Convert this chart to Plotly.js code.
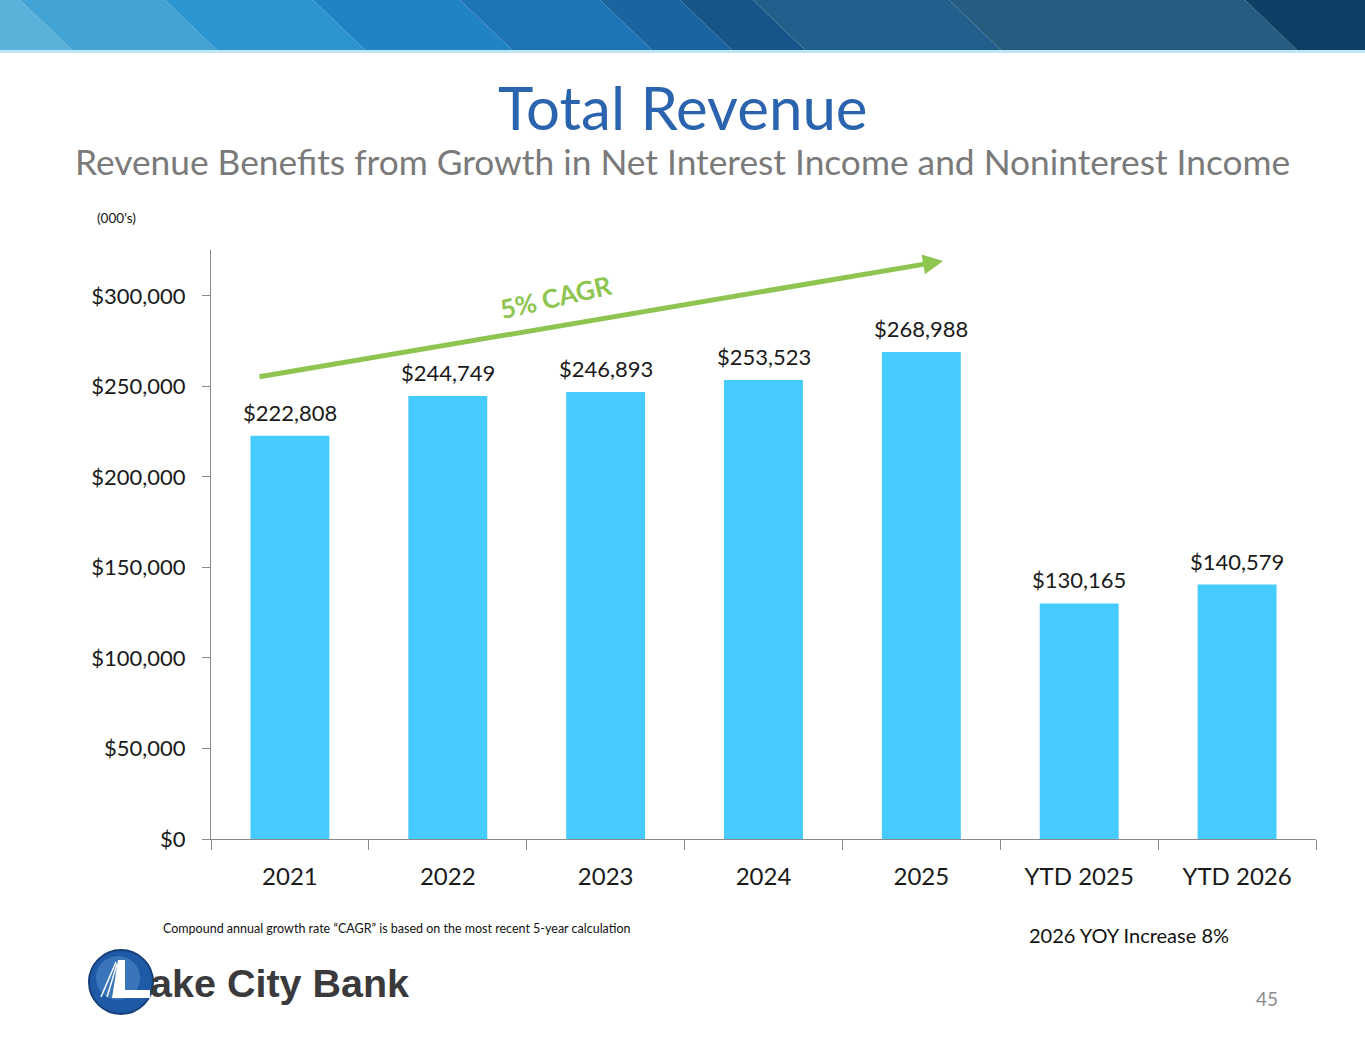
<!DOCTYPE html>
<html>
<head>
<meta charset="utf-8">
<script src="https://cdn.plot.ly/plotly-3.0.1.min.js"></script>
<style>
  html, body { margin: 0; padding: 0; background: #fff; }
  #chart { width: 1365px; height: 1047px; }
</style>
</head>
<body>
<div id="chart"></div>
<script>
"use strict"
// chart data (000's)
let years = ["2021", "2022", "2023", "2024", "2025", "YTD 2025", "YTD 2026"];
let revenue = [222808, 244749, 246893, 253523, 268988, 130165, 140579];
let bar_labels = ["$222,808", "$244,749", "$246,893", "$253,523", "$268,988", "$130,165", "$140,579"];
let cagr_text = "5% CAGR";

// plot box in pixels
const W = 1365, H = 1047;
const L = 211, R = 1316, T = 250, B = 839;

// pixel -> paper coords
function px(x) { return (x - L) / (R - L); }
function py(y) { return (B - y) / (B - T); }

const FONT = "Lato, 'Open Sans', sans-serif";

// banner stripes: [top-left x, top-right x, colour]
let stripes = [
    [-60, 20, "#5AB2DB"],
    [20, 165, "#43A3D5"],
    [165, 313, "#2C94CE"],
    [313, 460, "#2083C3"],
    [460, 600, "#1E74B4"],
    [600, 680, "#1A649F"],
    [680, 753, "#16558A"],
    [753, 949, "#235F8C"],
    [949, 1245, "#265C7F"],
    [1245, 1420, "#103F66"]
];
let shapes = [];
for (let s of stripes) {
    let x0 = s[0], x1 = s[1];
    let d = "M" + px(x0) + "," + py(0) + " L" + px(x1) + "," + py(0) +
        " L" + px(x1 + 52) + "," + py(50) + " L" + px(x0 + 52) + "," + py(50) + " Z";
    shapes.push({ type: "path", xref: "paper", yref: "paper", path: d,
        fillcolor: s[2], line: { width: 0 }, layer: "below" });
}
// thin light line under banner
shapes.push({ type: "rect", xref: "paper", yref: "paper",
    x0: px(0), x1: px(W), y0: py(53), y1: py(50),
    fillcolor: "#BFE6F7", line: { width: 0 } });

// logo circle
shapes.push({ type: "circle", xref: "paper", yref: "paper",
    x0: px(89), x1: px(153), y0: py(1014), y1: py(950),
    fillcolor: "#1F5AA6", line: { color: "#163F7A", width: 2 } });
shapes.push({ type: "circle", xref: "paper", yref: "paper",
    x0: px(96), x1: px(140), y0: py(1000), y1: py(956),
    fillcolor: "rgba(90,150,215,0.45)", line: { width: 0 } });
// white "L" mark
shapes.push({ type: "path", xref: "paper", yref: "paper",
    path: "M" + px(118) + "," + py(960) + " L" + px(125) + "," + py(960) +
        " L" + px(125) + "," + py(990) + " L" + px(150) + "," + py(990) +
        " L" + px(150) + "," + py(998) + " L" + px(112) + "," + py(998) + " Z",
    fillcolor: "#FFFFFF", line: { width: 0 } });
shapes.push({ type: "line", xref: "paper", yref: "paper",
    x0: px(116), y0: py(962), x1: px(101), y1: py(997), line: { color: "#FFFFFF", width: 1.5 } });
shapes.push({ type: "line", xref: "paper", yref: "paper",
    x0: px(117), y0: py(964), x1: px(107), y1: py(997), line: { color: "#FFFFFF", width: 1.5 } });

let annotations = [
    { text: "Total Revenue", x: px(683), y: py(107), xref: "paper", yref: "paper",
      showarrow: false, xanchor: "center", yanchor: "middle",
      font: { family: FONT, size: 60, color: "#2B64AE" } },
    { text: "Revenue Benefits from Growth in Net Interest Income and Noninterest Income",
      x: px(682), y: py(162), xref: "paper", yref: "paper",
      showarrow: false, xanchor: "center", yanchor: "middle",
      font: { family: FONT, size: 35.3, color: "#7A7A7A" } },
    { text: "(000’s)", x: px(95), y: py(218), xref: "paper", yref: "paper",
      showarrow: false, xanchor: "left", yanchor: "middle",
      font: { family: FONT, size: 13.5, color: "#111" } },
    // CAGR arrow
    { text: "", x: px(943), y: py(261), xref: "paper", yref: "paper",
      showarrow: true, ax: 258 - 943, ay: 377 - 261, axref: "pixel", ayref: "pixel",
      arrowhead: 2, arrowsize: 0.8, arrowwidth: 5, arrowcolor: "#8DC550", standoff: 0 },
    { text: "<b>" + cagr_text + "</b>", x: px(555), y: py(297), xref: "paper", yref: "paper",
      showarrow: false, textangle: -13, xanchor: "center", yanchor: "middle",
      font: { family: FONT, size: 26, color: "#8DC550" } },
    { text: "Compound annual growth rate “CAGR” is based on the most recent 5-year calculation",
      x: px(161), y: py(928), xref: "paper", yref: "paper",
      showarrow: false, xanchor: "left", yanchor: "middle",
      font: { family: FONT, size: 12.5, color: "#111" } },
    { text: "2026 YOY Increase 8%", x: px(1027), y: py(935), xref: "paper", yref: "paper",
      showarrow: false, xanchor: "left", yanchor: "middle",
      font: { family: FONT, size: 20, color: "#111" } },
    { text: "45", x: px(1267), y: py(999), xref: "paper", yref: "paper",
      showarrow: false, xanchor: "center", yanchor: "middle",
      font: { family: FONT, size: 19, color: "#8C8C8C" } },
    { text: "<b>ake City Bank</b>", x: px(148), y: py(983), xref: "paper", yref: "paper",
      showarrow: false, xanchor: "left", yanchor: "middle",
      font: { family: "'Liberation Sans', Arial, sans-serif", size: 39.5, color: "#3A3A3C" } }
];

// value labels above bars (category axis positions are the indices)
for (let i = 0; i < years.length; i++) {
    annotations.push({
        text: bar_labels[i], x: i, y: revenue[i], xref: "x", yref: "y",
        showarrow: false, xanchor: "center", yanchor: "bottom", yshift: 8,
        font: { family: FONT, size: 22, color: "#1a1a1a" }
    });
}

let data = [{
    type: "bar",
    x: years,
    y: revenue,
    marker: { color: "#46CBFE", line: { width: 0 } },
    width: 0.5,
    hoverinfo: "none"
}];

let layout = {
    width: W,
    height: H,
    autosize: false,
    margin: { l: L, r: W - R, t: T, b: H - B, pad: 0 },
    paper_bgcolor: "#FFFFFF",
    plot_bgcolor: "#FFFFFF",
    showlegend: false,
    font: { family: FONT, color: "#1a1a1a" },
    xaxis: {
        type: "category",
        range: [-0.5, years.length - 0.5],
        tickson: "boundaries",
        ticks: "outside",
        ticklen: 10,
        tickcolor: "#8A8A8A",
        showline: true,
        linecolor: "#8A8A8A",
        linewidth: 1,
        showgrid: false,
        zeroline: false,
        ticklabelstandoff: 16,
        tickangle: 0,
        tickfont: { family: FONT, size: 24, color: "#1a1a1a" },
        automargin: false
    },
    yaxis: {
        range: [0, 325400],
        dtick: 50000,
        tickprefix: "$",
        tickformat: ",d",
        ticks: "outside",
        ticklen: 8,
        tickcolor: "#8A8A8A",
        showline: true,
        linecolor: "#8A8A8A",
        linewidth: 1,
        showgrid: false,
        zeroline: false,
        ticklabelstandoff: 12,
        tickfont: { family: FONT, size: 22, color: "#1a1a1a" },
        automargin: false
    },
    shapes: shapes,
    annotations: annotations
};

Plotly.newPlot("chart", data, layout, { displayModeBar: false, staticPlot: true });
</script>
</body>
</html>
